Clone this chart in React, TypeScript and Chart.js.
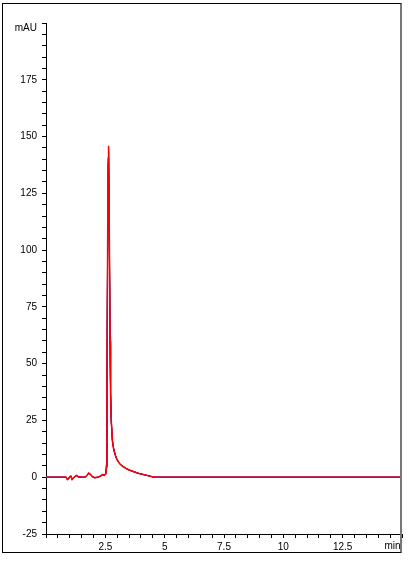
import React, { useEffect, useRef } from "react";
import { Chart, registerables } from "chart.js";

Chart.register(...registerables);

// Retention time (min)
const TIMES = [0, 0.85, 0.9, 0.95, 1.0, 1.05, 1.1, 1.15, 1.25, 1.3, 1.35, 1.5, 1.65, 1.72, 1.8, 1.88, 1.95, 2.05, 2.2, 2.3, 2.4, 2.45, 2.52, 2.55, 2.57, 2.6, 2.62, 2.635, 2.66, 2.7, 2.72, 2.75, 2.8, 2.85, 2.9, 2.95, 3.0, 3.1, 3.2, 3.35, 3.5, 3.7, 3.9, 4.1, 4.3, 4.45, 4.6, 15];

// Detector signal (mAU) for overlaid runs
const RED = [0, 0, -1, -0.6, 0.2, 0.5, -1, -0.3, 0.6, 0.8, 0.2, 0, 0, 0.8, 1.8, 1.2, 0.3, -0.2, 0, 0.6, 1.2, 0.8, 1.5, 5, 40, 110, 140, 146, 120, 60, 38, 25, 16, 12.5, 10.5, 8.8, 7.6, 6, 5, 4, 3.2, 2.4, 1.7, 1.2, 0.7, 0.3, 0, 0];
const BLACK = [0, 0, -0.8, -0.8, 0.4, 0.3, -0.8, -0.5, 0.7, 0.6, 0.1, 0, 0, 0.9, 1.7, 1.3, 0.2, -0.1, 0.1, 0.5, 1.0, 0.9, 1.8, 6, 44, 112, 138, 145, 118, 58, 37, 24, 15.5, 12.8, 10.8, 8.6, 7.5, 5.9, 5.1, 4.1, 3.1, 2.5, 1.8, 1.1, 0.7, 0.3, 0, 0];
const GREEN = [0, 0, -0.9, -0.7, 0.3, 0.4, -0.9, -0.4, 0.5, 0.7, 0.2, 0, 0, 0.7, 1.6, 1.1, 0.3, -0.2, 0, 0.5, 1.1, 0.8, 1.6, 4, 36, 106, 136, 143, 121, 62, 39, 25.5, 16.5, 12.2, 10.2, 9.0, 7.8, 6.1, 4.9, 3.9, 3.3, 2.3, 1.6, 1.2, 0.6, 0.2, 0, 0];
const BLUE = [0, 0, -1.1, -0.5, 0.2, 0.5, -1.1, -0.2, 0.6, 0.8, 0.2, 0, 0, 0.8, 1.9, 1.2, 0.4, -0.3, 0, 0.7, 1.3, 0.9, 1.4, 4.5, 42, 114, 139, 144, 119, 59, 38, 24.5, 15.8, 12.6, 10.6, 8.7, 7.6, 6.0, 5.0, 4.0, 3.2, 2.4, 1.7, 1.2, 0.7, 0.3, 0, 0];
const PURPLE = [0, 0, -1, -0.7, 0.3, 0.4, -1, -0.3, 0.5, 0.7, 0.2, 0, 0, 0.8, 1.7, 1.2, 0.3, -0.2, 0, 0.6, 1.1, 0.8, 1.5, 5, 41, 111, 141, 145.5, 119, 61, 38, 25, 16, 12.5, 10.4, 8.8, 7.7, 6, 5, 4, 3.2, 2.4, 1.7, 1.2, 0.7, 0.3, 0, 0];

// Axes
const X_MIN = 0;
const X_MAX = 15;
const X_STEP = 0.5;
const X_LABEL_EVERY = 2.5;
const X_UNIT = "min";
const Y_MIN = -25;
const Y_MAX = 200;
const Y_STEP = 5;
const Y_LABEL_EVERY = 25;
const Y_UNIT = "mAU";

const FONT = 'Arial, "Liberation Sans", sans-serif';

const toPoints = (ys: number[]) => TIMES.map((t, i) => ({ x: t, y: ys[i] }));

const unitLabels = {
  id: "unitLabels",
  afterDraw(chart: any) {
    const ctx = chart.ctx;
    const xs = chart.scales.x;
    const ys = chart.scales.y;
    ctx.save();
    ctx.fillStyle = "#000";
    ctx.font = `10px ${FONT}`;
    ctx.textAlign = "right";
    ctx.textBaseline = "middle";
    ctx.fillText(Y_UNIT, ys.right - 9, ys.getPixelForValue(Y_MAX) + 5);
    ctx.fillText(X_UNIT, xs.getPixelForValue(X_MAX) - 1.5, xs.top + 12.5);
    ctx.restore();
  },
};

export default function App() {
  const ref = useRef<HTMLCanvasElement | null>(null);

  useEffect(() => {
    if (!ref.current) return;
    const mk = (label: string, data: number[], color: string, order: number, w: number) => ({
      label,
      data: toPoints(data),
      borderColor: color,
      backgroundColor: color,
      borderWidth: w,
      pointRadius: 0,
      tension: 0,
      fill: false,
      order,
    });
    const chart = new Chart(ref.current, {
      type: "line",
      data: {
        datasets: [
          mk("Run 5", RED, "#ff0000", 0, 1.5),
          mk("Run 4", PURPLE, "#c000c0", 1, 1),
          mk("Run 3", BLUE, "#0000ff", 2, 1),
          mk("Run 2", GREEN, "#008000", 3, 1),
          mk("Run 1", BLACK, "#000000", 4, 1),
        ],
      },
      options: {
        animation: false,
        responsive: false,
        devicePixelRatio: 1,
        layout: { padding: { left: 0, top: 23, right: 10, bottom: 0 } },
        plugins: { legend: { display: false }, tooltip: { enabled: false } },
        scales: {
          x: {
            type: "linear",
            min: X_MIN,
            max: X_MAX,
            afterFit: (a: any) => { a.height = 33; },
            border: { display: true, color: "#000", width: 1 },
            grid: { drawOnChartArea: false, drawTicks: true, tickLength: 4, color: "#000" },
            ticks: {
              stepSize: X_STEP,
              autoSkip: false,
              maxRotation: 0,
              padding: 3,
              color: "#000",
              font: { family: FONT, size: 10 },
              callback: (v: any) => {
                const n = Number(v);
                const r = n / X_LABEL_EVERY;
                if (n > X_MIN && n < X_MAX && Math.abs(r - Math.round(r)) < 1e-6) return String(n);
                return "";
              },
            },
          },
          y: {
            type: "linear",
            min: Y_MIN,
            max: Y_MAX,
            afterFit: (a: any) => { a.width = 46; },
            border: { display: true, color: "#000", width: 1 },
            grid: { drawOnChartArea: false, drawTicks: true, tickLength: 4, color: "#000" },
            ticks: {
              stepSize: Y_STEP,
              autoSkip: false,
              padding: 5,
              color: "#000",
              font: { family: FONT, size: 10 },
              callback: (v: any) => {
                const n = Number(v);
                if (n !== Y_MAX && n % Y_LABEL_EVERY === 0) return String(n);
                return "";
              },
            },
          },
        },
      },
      plugins: [unitLabels],
    });
    return () => chart.destroy();
  }, []);

  return (
    <div style={{ position: "fixed", left: 0, top: 0, width: 412, height: 567, background: "#fff" }}>
      <canvas ref={ref} width={412} height={567} style={{ position: "absolute", left: 0, top: 0, width: 412, height: 567 }} />
      <div
        style={{
          position: "absolute",
          left: 2,
          top: 3,
          width: 397,
          height: 548,
          borderLeft: "1px solid #000",
          borderTop: "1px solid #000",
          borderBottom: "1px solid #000",
          borderRight: "2px solid #777",
          pointerEvents: "none",
        }}
      />
    </div>
  );
}
